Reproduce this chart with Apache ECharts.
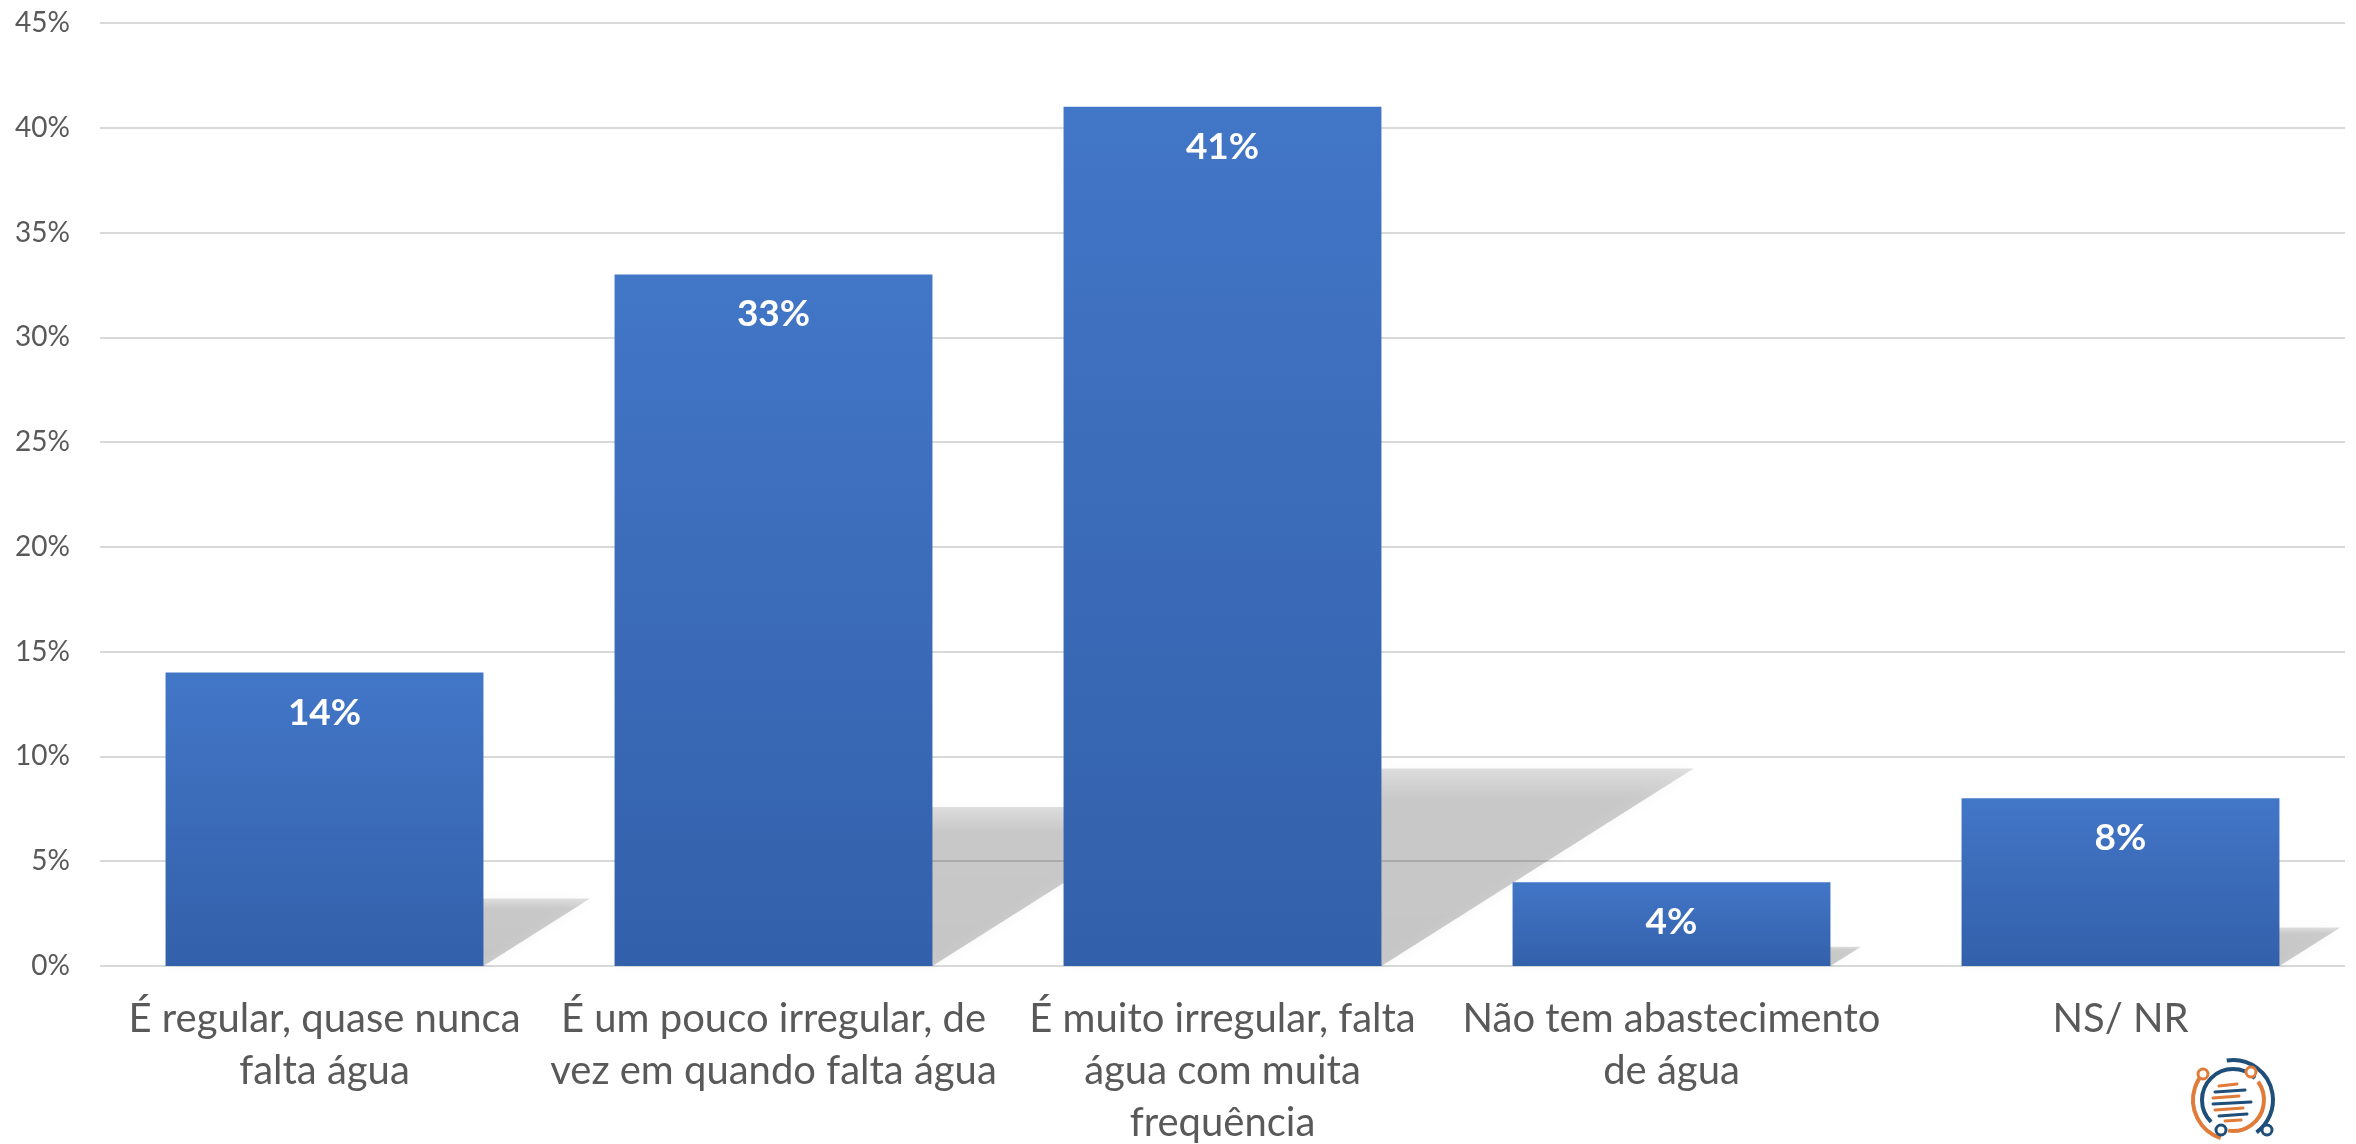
<!DOCTYPE html>
<html>
<head>
<meta charset="utf-8">
<script src="https://cdn.jsdelivr.net/npm/echarts@6/dist/echarts.min.js"></script>
<style>
  html, body { margin: 0; padding: 0; background: #fff; }
  #chart { width: 2356px; height: 1144px; }
</style>
</head>
<body>
<div id="chart"></div>
<script>
const categories = [
  'É regular, quase nunca\nfalta água',
  'É um pouco irregular, de\nvez em quando falta água',
  'É muito irregular, falta\nágua com muita\nfrequência',
  'Não tem abastecimento\nde água',
  'NS/ NR'
]
const values = [14, 33, 41, 4, 8]
const yTicks = {min: 0, max: 45, interval: 5}

const BAR_RATIO = 0.708
const myChart = echarts.init(document.getElementById('chart'))

// perspective shadow, like the Excel one, built from each bar's own coords
const renderShadow = (params, api) => {
  const idx = api.value(0)
  const base = api.coord([idx, 0])
  const top = api.coord([idx, api.value(1)])
  const w = api.size([1, 0])[0] * BAR_RATIO
  const x0 = base[0] - w / 2
  const x1 = base[0] + w / 2
  const h = (base[1] - top[1]) * 0.23
  const dx = h * 1.58
  return {
    type: 'polygon',
    shape: {
      points: [[x0, base[1]], [x1, base[1]], [x1 + dx, base[1] - h], [x0 + dx, base[1] - h]]
    },
    style: {
      fill: new echarts.graphic.LinearGradient(0, 1, 0, 0, [
        {offset: 0, color: 'rgba(0,0,0,0.2)'},
        {offset: 0.85, color: 'rgba(0,0,0,0.19)'},
        {offset: 1, color: 'rgba(0,0,0,0.12)'}
      ]),
      shadowBlur: 12,
      shadowColor: 'rgba(0,0,0,0.16)'
    }
  }
}

const logoBlue = '#1f4e79'
const logoOrange = '#e07b39'
const lines = [
  [-14, -14, 4, -16, logoOrange], [-18, -8, 12, -10, logoBlue],
  [-20, -2, 6, -4, logoOrange], [-20, 4, 18, 2, logoBlue],
  [-18, 10, 10, 8, logoOrange], [-14, 16, 14, 14, logoBlue],
  [-8, 21, 8, 20, logoOrange]
]

myChart.setOption({
  animation: false,
  grid: {left: 100, right: 11, top: 23, bottom: 178, containLabel: false, outerBoundsMode: 'none'},
  xAxis: {
    type: 'category',
    data: categories,
    axisTick: {show: false},
    axisLine: {show: false},
    axisLabel: {
      interval: 0,
      margin: 27,
      color: '#595959',
      fontFamily: 'Lato',
      fontSize: 40,
      lineHeight: 52
    }
  },
  yAxis: {
    type: 'value',
    min: yTicks.min,
    max: yTicks.max,
    interval: yTicks.interval,
    axisLine: {show: false},
    axisTick: {show: false},
    splitLine: {lineStyle: {color: '#d9d9d9', width: 2}},
    axisLabel: {
      formatter: '{value}%',
      margin: 30,
      color: '#595959',
      fontFamily: 'Lato',
      fontSize: 28
    }
  },
  series: [
    {
      type: 'custom',
      z: 1,
      silent: true,
      renderItem: renderShadow,
      data: values.map((v, i) => [i, v])
    },
    {
      type: 'bar',
      z: 2,
      barWidth: (BAR_RATIO * 100) + '%',
      data: values,
      itemStyle: {
        color: new echarts.graphic.LinearGradient(0, 0, 0, 1, [
          {offset: 0, color: '#4276c7'},
          {offset: 1, color: '#3360aa'}
        ])
      },
      label: {
        show: true,
        position: 'insideTop',
        distance: 20,
        formatter: '{c}%',
        color: '#fff',
        fontFamily: 'Lato',
        fontWeight: 'bold',
        fontSize: 37,
        lineHeight: 40
      }
    }
  ],
  graphic: [
    {
      type: 'group',
      x: 2233,
      y: 1100,
      children: [
        {type: 'arc', shape: {cx: 0, cy: 0, r: 40, startAngle: -Math.PI * 0.55, endAngle: Math.PI * 0.3},
          style: {stroke: logoBlue, lineWidth: 4, fill: null}},
        {type: 'arc', shape: {cx: 0, cy: 0, r: 40, startAngle: Math.PI * 0.6, endAngle: Math.PI * 1.25},
          style: {stroke: logoOrange, lineWidth: 4, fill: null}},
        {type: 'arc', shape: {cx: 0, cy: 0, r: 31, startAngle: Math.PI * 0.75, endAngle: Math.PI * 1.75},
          style: {stroke: logoBlue, lineWidth: 4, fill: null}},
        {type: 'arc', shape: {cx: 0, cy: 0, r: 31, startAngle: -Math.PI * 0.2, endAngle: Math.PI * 0.55},
          style: {stroke: logoOrange, lineWidth: 4, fill: null}},
        {type: 'circle', shape: {cx: -30, cy: -26, r: 5}, style: {stroke: logoOrange, lineWidth: 3, fill: '#fff'}},
        {type: 'circle', shape: {cx: 18, cy: -28, r: 5}, style: {stroke: logoOrange, lineWidth: 3, fill: '#fff'}},
        {type: 'circle', shape: {cx: -12, cy: 30, r: 5}, style: {stroke: logoBlue, lineWidth: 3, fill: '#fff'}},
        {type: 'circle', shape: {cx: 34, cy: 30, r: 5}, style: {stroke: logoBlue, lineWidth: 3, fill: '#fff'}},
        ...lines.map(l => ({
          type: 'line',
          shape: {x1: l[0], y1: l[1], x2: l[2], y2: l[3]},
          style: {stroke: l[4], lineWidth: 3, lineCap: 'round'}
        }))
      ]
    }
  ]
})
</script>
</body>
</html>
